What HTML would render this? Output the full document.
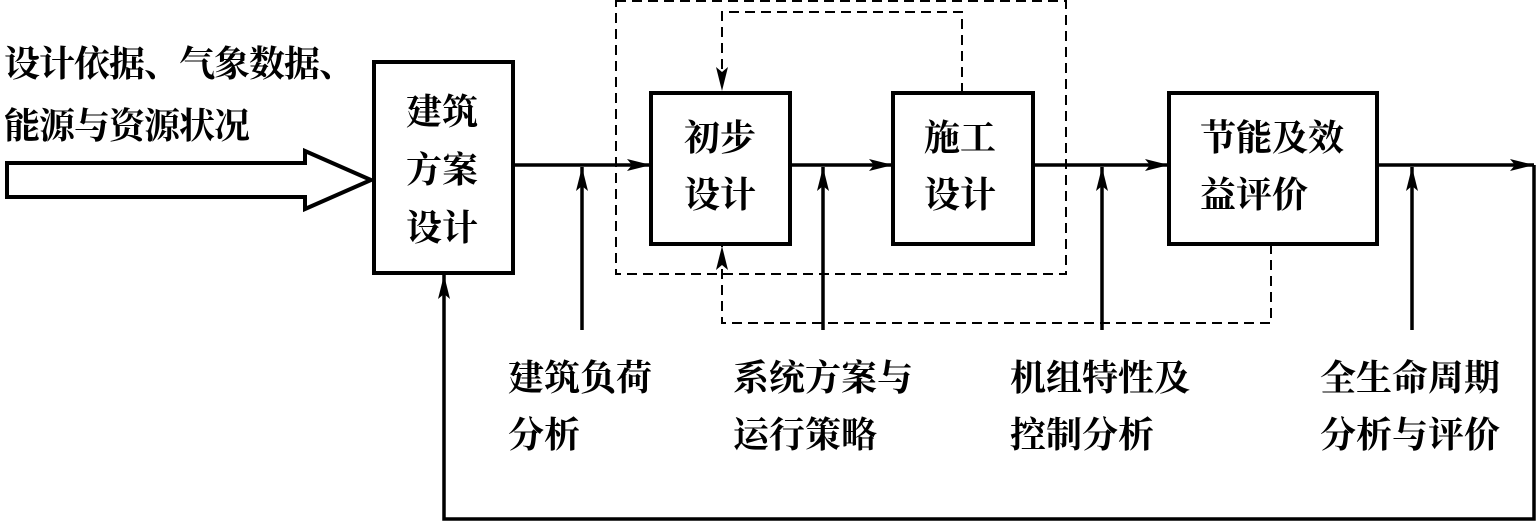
<!DOCTYPE html>
<html><head><meta charset="utf-8"><style>
html,body{margin:0;padding:0;background:#fff;}
svg text{font-family:"Liberation Serif","Noto Serif CJK SC",serif;fill:#000;font-weight:bold;}
</style></head><body>
<svg width="1536" height="522" viewBox="0 0 1536 522" xmlns="http://www.w3.org/2000/svg">
<defs>
<marker id="b" viewBox="0 0 24 12" markerWidth="24" markerHeight="12" refX="24" refY="6" orient="auto" markerUnits="userSpaceOnUse">
<path d="M0,0 L24,6 L0,12 L5,6 Z" fill="#000"/></marker>
</defs>
<g fill="none" stroke="#000">
<path d="M7,163 L305,163 L305,151 L371,180 L305,209 L305,197 L7,197 Z" stroke-width="4"/>
<rect x="374" y="62" width="139" height="211" stroke-width="4"/>
<rect x="651" y="93" width="139" height="151" stroke-width="4"/>
<rect x="893" y="93" width="140" height="151" stroke-width="4"/>
<rect x="1169" y="93" width="208" height="151" stroke-width="4"/>
<line x1="513" y1="165" x2="651" y2="165" stroke-width="3.5" marker-end="url(#b)"/>
<line x1="790" y1="165" x2="893" y2="165" stroke-width="3.5" marker-end="url(#b)"/>
<line x1="1033" y1="165" x2="1169" y2="165" stroke-width="3.5" marker-end="url(#b)"/>
<line x1="1377" y1="165" x2="1534" y2="165" stroke-width="3.5" marker-end="url(#b)"/>
<line x1="582" y1="330" x2="582" y2="167" stroke-width="3.5" marker-end="url(#b)"/>
<line x1="823" y1="330" x2="823" y2="167" stroke-width="3.5" marker-end="url(#b)"/>
<line x1="1102" y1="330" x2="1102" y2="167" stroke-width="3.5" marker-end="url(#b)"/>
<line x1="1412" y1="330" x2="1412" y2="167" stroke-width="3.5" marker-end="url(#b)"/>
<polyline points="1534,165 1534,519 444,519 444,275" stroke-width="3.5" marker-end="url(#b)"/>
<rect x="616" y="1" width="450" height="273" stroke-width="2" stroke-dasharray="10,6"/>
<polyline points="962,93 962,12 722,12 722,91" stroke-width="2" stroke-dasharray="10,6" marker-end="url(#b)"/>
<polyline points="1271,244 1271,323 722,323 722,246" stroke-width="2" stroke-dasharray="10,6" marker-end="url(#b)"/>
</g>
<g font-size="36">
<text x="4" y="76" letter-spacing="-1">设计依据、气象数据、</text>
<text x="4" y="138" letter-spacing="-1">能源与资源状况</text>
<text x="406" y="124">建筑</text>
<text x="406" y="182">方案</text>
<text x="406" y="240">设计</text>
<text x="684" y="150">初步</text>
<text x="684" y="207">设计</text>
<text x="924" y="150">施工</text>
<text x="924" y="207">设计</text>
<text x="1200" y="150">节能及效</text>
<text x="1200" y="207">益评价</text>
<text x="508" y="390">建筑负荷</text>
<text x="508" y="447">分析</text>
<text x="733" y="390">系统方案与</text>
<text x="733" y="447">运行策略</text>
<text x="1010" y="390">机组特性及</text>
<text x="1010" y="447">控制分析</text>
<text x="1320" y="390">全生命周期</text>
<text x="1320" y="447">分析与评价</text>
</g>
</svg>
</body></html>
